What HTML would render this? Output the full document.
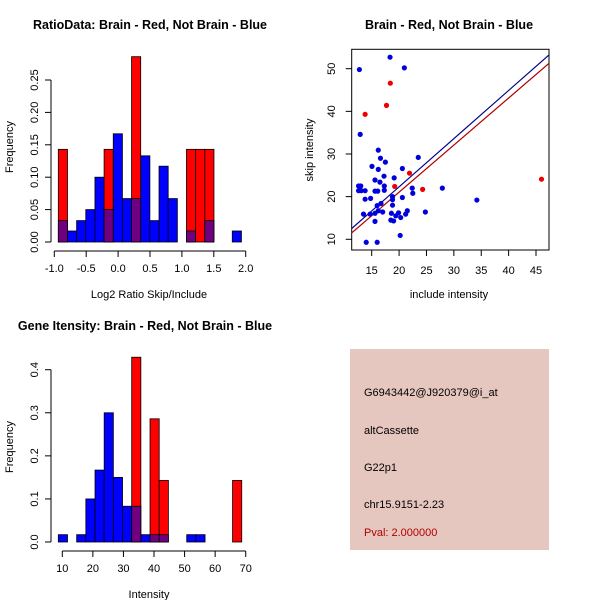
<!DOCTYPE html>
<html><head><meta charset="utf-8"><style>
body{margin:0;background:#fff;}
svg{display:block;font-family:"Liberation Sans",sans-serif;}
</style></head><body>
<svg id="s" width="600" height="600" viewBox="0 0 600 600">
<rect width="600" height="600" fill="#fff"/>
<text x="150" y="29" text-anchor="middle" font-size="12.5" font-weight="bold">RatioData: Brain - Red, Not Brain - Blue</text>
<text x="449" y="29" text-anchor="middle" font-size="12.5" font-weight="bold">Brain - Red, Not Brain - Blue</text>
<text x="145" y="330" text-anchor="middle" font-size="12.5" font-weight="bold">Gene Itensity: Brain - Red, Not Brain - Blue</text>
<text x="149" y="298" text-anchor="middle" font-size="11">Log2 Ratio Skip/Include</text>
<text x="149" y="598" text-anchor="middle" font-size="11">Intensity</text>
<text x="449" y="298" text-anchor="middle" font-size="11">include intensity</text>
<text transform="translate(13,147) rotate(-90)" text-anchor="middle" font-size="11">Frequency</text>
<text transform="translate(13,447) rotate(-90)" text-anchor="middle" font-size="11">Frequency</text>
<text transform="translate(313,150) rotate(-90)" text-anchor="middle" font-size="11">skip intensity</text>
<g>
<rect x="350" y="349" width="199" height="201" fill="#e6c7bf"/>
<text x="364" y="396" font-size="11">G6943442@J920379@i_at</text>
<text x="364" y="434" font-size="11">altCassette</text>
<text x="364" y="471" font-size="11">G22p1</text>
<text x="364" y="508" font-size="11">chr15.9151-2.23</text>
<text x="364" y="536" font-size="11" fill="#b00000">Pval: 2.000000</text>
</g>
<g id="h1"></g>
<g id="h2"></g>
<g id="sc"></g>
</svg>
<script>
const NS='http://www.w3.org/2000/svg';
// Ratio histogram data
const ratioBinStart=-0.937, ratioBinWidth=0.1435;
const ratioBlue=[0.033,0.017,0.033,0.05,0.1,0.05,0.167,0.067,0.067,0.133,0.033,0.117,0.067,0,0.017,0,0.033,0,0,0.017];
const ratioRed=[0.143,0,0,0,0,0.143,0,0,0.286,0,0,0,0,0,0.143,0.143,0.143,0,0,0];
const ratioXTicks=["-1.0","-0.5","0.0","0.5","1.0","1.5","2.0"];
const ratioYTicks=["0.00","0.05","0.10","0.15","0.20","0.25"];
// Intensity histogram data
const intBinStart=8.7, intBinWidth=3.0;
const intBlue=[0.017,0,0.017,0.1,0.167,0.3,0.15,0.083,0.083,0.017,0.017,0.017,0,0,0.017,0.017,0,0,0,0];
const intRed=[0,0,0,0,0,0,0,0,0.429,0,0.286,0.143,0,0,0,0,0,0,0,0.143];
const intXTicks=["10","20","30","40","50","60","70"];
const intYTicks=["0.0","0.1","0.2","0.3","0.4"];
// Scatter data
const blueX=[18.35,12.75,20.96,12.9,16.2,16.6,15.05,16.2,17.5,23.5,20.6,17.25,19.1,15.6,16.5,17.3,12.6,13.0,12.6,13.1,13.8,15.6,16.1,17.3,22.4,27.9,22.5,20.6,18.8,18.8,13.8,14.8,16.7,16.0,18.8,34.2,13.5,14.7,15.6,16.2,17.0,18.6,19.9,19.4,20.3,21.2,21.5,24.8,18.5,19.0,15.6,20.2,14.0,16.0];
const blueY=[52.7,49.8,50.2,34.6,30.9,29.0,27.1,26.4,28.1,29.2,26.6,24.8,24.4,23.9,23.4,22.5,22.5,22.5,21.4,21.4,21.4,21.3,21.3,21.5,22.0,22.0,20.8,19.8,20.0,19.3,19.4,19.6,18.4,17.9,18.0,19.2,15.9,15.9,16.1,16.7,16.4,16.1,16.2,15.5,15.1,15.9,16.7,16.4,14.5,14.3,14.2,10.9,9.3,9.3];
const redX=[13.8,17.7,18.4,21.9,19.2,24.3,46.0];
const redY=[39.3,41.4,46.6,25.5,22.4,21.7,24.1];
const blueFit=[-0.3,1.13];
const redFit=[-1.03,1.104];
const scXTicks=[15,20,25,30,35,40,45];
const scYTicks=[10,20,30,40,50];

function el(tag,attrs,parent){const e=document.createElementNS(NS,tag);for(const k in attrs)e.setAttribute(k,attrs[k]);parent.appendChild(e);return e;}

function hist(g,name,start,w,blue,red,xt,yt,xScale,yScale,axisY,xLabelY){
  const y0=yScale(0);
  for(let i=0;i<blue.length;i++){
    const x1=xScale(start+i*w),x2=xScale(start+(i+1)*w);
    const r=red[i],b=blue[i];
    if(r>0){const e=el('rect',{x:x1,y:yScale(r),width:x2-x1,height:y0-yScale(r),fill:'#ff0000',stroke:'#000','stroke-width':0.8},g);
      }
    if(b>0){const top=Math.max(b,r);
      if(b>r){const e=el('rect',{x:x1,y:yScale(b),width:x2-x1,height:y0-yScale(b),fill:'#0000ff',stroke:'#000','stroke-width':0.8},g);
        }
      const m=Math.min(b,r);
      if(m>0){const e=el('rect',{x:x1,y:yScale(m),width:x2-x1,height:y0-yScale(m),fill:'#70007f',stroke:'#000','stroke-width':0.8},g);
        }
    }
  }
  // y axis
  const yv=yt.map(Number);
  el('line',{x1:51,x2:51,y1:yScale(yv[0]),y2:yScale(yv[yv.length-1]),stroke:'#000'},g);
  yt.forEach((t,i)=>{const y=yScale(yv[i]);el('line',{x1:45,x2:51,y1:y,y2:y,stroke:'#000'},g);
    const tx=el('text',{transform:`translate(38,${y}) rotate(-90)`,'text-anchor':'middle','font-size':11},g);tx.textContent=t;
    });
  const xv=xt.map(Number);
  el('line',{x1:xScale(xv[0]),x2:xScale(xv[xv.length-1]),y1:axisY,y2:axisY,stroke:'#000'},g);
  xt.forEach((t,i)=>{const x=xScale(xv[i]);el('line',{x1:x,x2:x,y1:axisY,y2:axisY+6,stroke:'#000'},g);
    const tx=el('text',{x:x,y:xLabelY,'text-anchor':'middle','font-size':11},g);tx.textContent=t;
    });
}
hist(document.getElementById('h1'),'ratio',ratioBinStart,ratioBinWidth,ratioBlue,ratioRed,ratioXTicks,ratioYTicks,
  v=>54.3+(v+1)*63.8, v=>242-v*648, 251, 272);
hist(document.getElementById('h2'),'intensity',intBinStart,intBinWidth,intBlue,intRed,intXTicks,intYTicks,
  v=>62.3+(v-10)*3.057, v=>542-v*430.7, 551, 572);

// scatter
const g=document.getElementById('sc');
const sx=v=>371.7+(v-15)*5.477, sy=v=>239.3-(v-10)*4.265;
const L=351.7,R=549,T=49.3,B=250;
el('clipPath',{id:'cp'},g).appendChild(Object.assign(document.createElementNS(NS,'rect'),{}));
const cp=g.querySelector('#cp rect');cp.setAttribute('x',L);cp.setAttribute('y',T);cp.setAttribute('width',R-L);cp.setAttribute('height',B-T);
el('rect',{x:L,y:T,width:R-L,height:B-T,fill:'none',stroke:'#000'},g);
const xl=(R-L)/5.477, xa=15+(L-371.7)/5.477, xb=15+(R-371.7)/5.477;
const bl=el('line',{x1:sx(xa),y1:sy(blueFit[0]+blueFit[1]*xa),x2:sx(xb),y2:sy(blueFit[0]+blueFit[1]*xb),stroke:'#00008b','stroke-width':1.2,'clip-path':'url(#cp)'},g);

const rl=el('line',{x1:sx(xa),y1:sy(redFit[0]+redFit[1]*xa),x2:sx(xb),y2:sy(redFit[0]+redFit[1]*xb),stroke:'#b00000','stroke-width':1.2,'clip-path':'url(#cp)'},g);

blueX.forEach((x,i)=>{const c=el('circle',{cx:sx(x),cy:sy(blueY[i]),r:2.6,fill:'#0000dd'},g);
  });
redX.forEach((x,i)=>{const c=el('circle',{cx:sx(x),cy:sy(redY[i]),r:2.6,fill:'#ee0000'},g);
  });
scXTicks.forEach(v=>{const x=sx(v);el('line',{x1:x,x2:x,y1:B,y2:B+6,stroke:'#000'},g);
  const t=el('text',{x:x,y:274,'text-anchor':'middle','font-size':11},g);t.textContent=v;
  });
scYTicks.forEach(v=>{const y=sy(v);el('line',{x1:L-6,x2:L,y1:y,y2:y,stroke:'#000'},g);
  const t=el('text',{transform:`translate(335,${y}) rotate(-90)`,'text-anchor':'middle','font-size':11},g);t.textContent=v;
  });
</script>
</body></html>
